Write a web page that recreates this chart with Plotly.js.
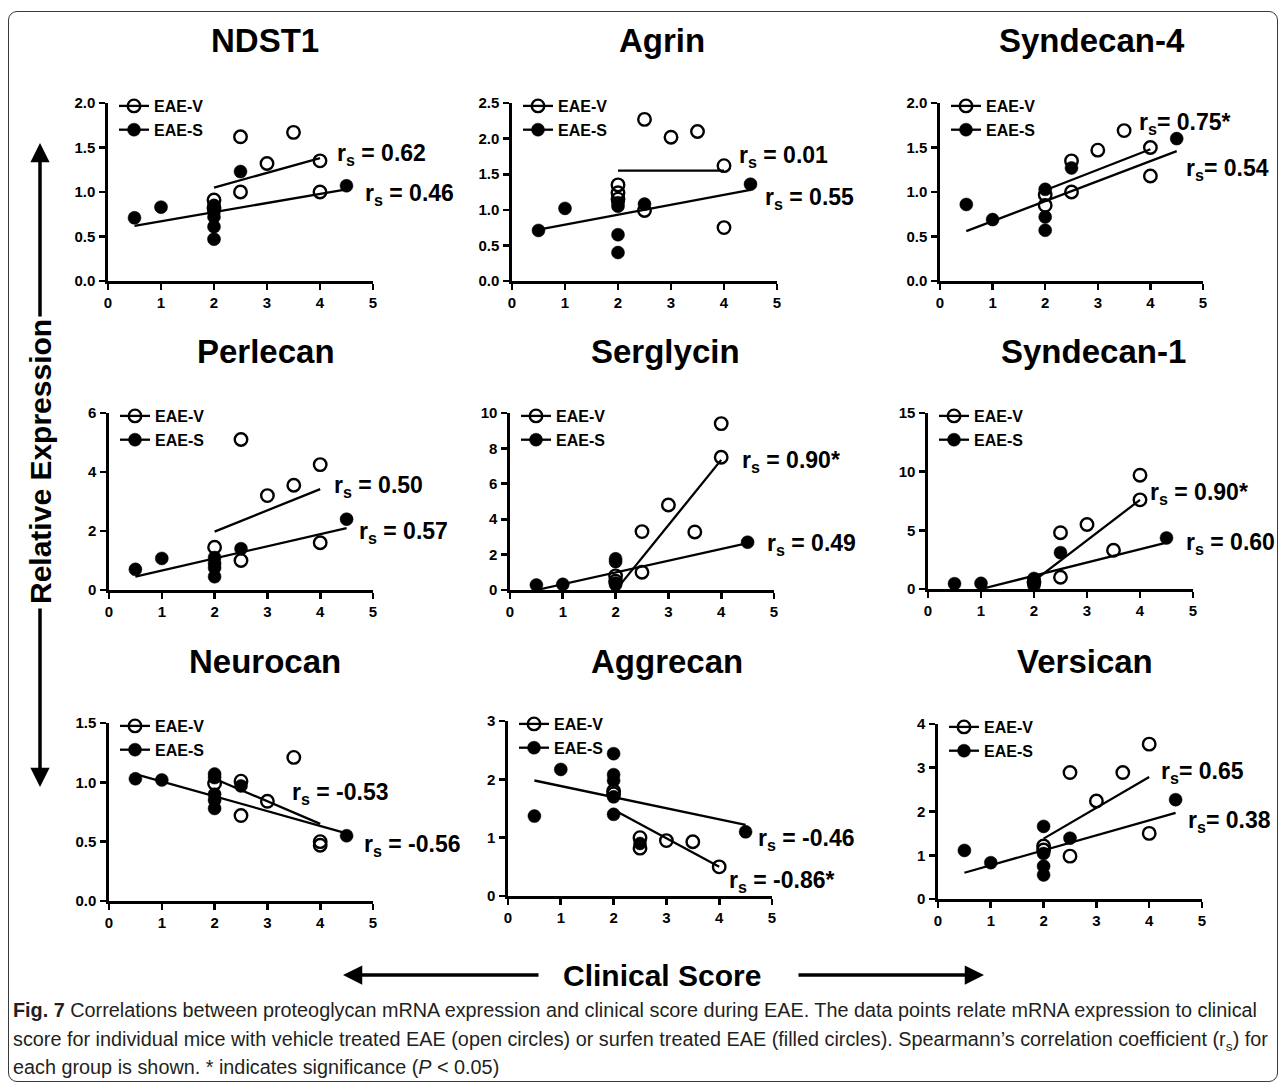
<!DOCTYPE html>
<html>
<head>
<meta charset="utf-8">
<script src="https://cdn.plot.ly/plotly-3.0.1.min.js"></script>
<style>
  html, body { margin: 0; padding: 0; background: #fff; }
  #wrap { position: relative; width: 1285px; height: 1084px; overflow: hidden; }
  #chart { position: absolute; left: 0; top: 0; width: 1285px; height: 1084px; }
  #frame { position: absolute; left: 8px; top: 11px; width: 1270px; height: 1071px;
           border: 1.3px solid #3a3a3a; border-radius: 9px; pointer-events: none; box-sizing: border-box; }
  #caption { position: absolute; left: 13px; top: 996px; color: #231f20;
             font-family: "Liberation Sans", Arial, sans-serif;
             font-size: 19.5px; line-height: 28.5px; white-space: nowrap; transform-origin: 0 0; }
  #caption sub { font-size: 70%; line-height: 0; }
</style>
</head>
<body>
<div id="wrap">
  <div id="chart"></div>
  <div id="frame"></div>
  <div id="caption">
    <div class="ln"><span id="ln1"><b>Fig. 7</b> Correlations between proteoglycan mRNA expression and clinical score during EAE. The data points relate mRNA expression to clinical</span></div>
    <div class="ln">score for individual mice with vehicle treated EAE (open circles) or surfen treated EAE (filled circles). Spearmann’s correlation coefficient (r<sub>s</sub>) for</div>
    <div class="ln">each group is shown. * indicates significance (<i>P</i> &lt; 0.05)</div>
  </div>
</div>
<script>
// ---------------- DATA ----------------
const titles = ['NDST1', 'Agrin', 'Syndecan-4', 'Perlecan', 'Serglycin', 'Syndecan-1', 'Neurocan', 'Aggrecan', 'Versican'];
const groupNames = ['EAE-V', 'EAE-S'];
const xTicks = [0, 1, 2, 3, 4, 5];
const yMax = [2, 2.5, 2, 6, 10, 15, 1.5, 3, 4];
const yStep = [0.5, 0.5, 0.5, 2, 2, 5, 0.5, 1, 1];
const yFormat = ['.1f', '.1f', '.1f', 'd', 'd', 'd', '.1f', 'd', 'd'];
const rsV = ['r<sub>s</sub> = 0.62', 'r<sub>s</sub> = 0.01', 'r<sub>s</sub>= 0.75*', 'r<sub>s</sub> = 0.50', 'r<sub>s</sub> = 0.90*', 'r<sub>s</sub> = 0.90*', 'r<sub>s</sub> = -0.53', 'r<sub>s</sub> = -0.86*', 'r<sub>s</sub>= 0.65'];
const rsS = ['r<sub>s</sub> = 0.46', 'r<sub>s</sub> = 0.55', 'r<sub>s</sub>= 0.54', 'r<sub>s</sub> = 0.57', 'r<sub>s</sub> = 0.49', 'r<sub>s</sub> = 0.60', 'r<sub>s</sub> = -0.56', 'r<sub>s</sub> = -0.46', 'r<sub>s</sub>= 0.38'];

// NDST1
const ndst1V_x = [2, 2, 2.5, 2.5, 3, 3.5, 4, 4];
const ndst1V_y = [0.91, 0.82, 1.62, 1.00, 1.32, 1.67, 1.35, 1.00];
const ndst1S_x = [0.5, 1, 2, 2, 2, 2, 2, 2.5, 4.5];
const ndst1S_y = [0.71, 0.83, 0.85, 0.78, 0.72, 0.61, 0.47, 1.23, 1.07];
const ndst1FitV_x = [2, 4], ndst1FitV_y = [1.05, 1.38];
const ndst1FitS_x = [0.5, 4.5], ndst1FitS_y = [0.62, 1.03];
// Agrin
const agrinV_x = [2, 2, 2, 2.5, 2.5, 3, 3.5, 4, 4];
const agrinV_y = [1.35, 1.24, 1.15, 2.27, 0.99, 2.02, 2.10, 1.62, 0.75];
const agrinS_x = [0.5, 1, 2, 2, 2, 2, 2.5, 4.5];
const agrinS_y = [0.71, 1.02, 1.10, 1.05, 0.65, 0.40, 1.08, 1.36];
const agrinFitV_x = [2, 4], agrinFitV_y = [1.55, 1.55];
const agrinFitS_x = [0.5, 4.5], agrinFitS_y = [0.72, 1.28];
// Syndecan-4
const sdc4V_x = [2, 2, 2.5, 2.5, 3, 3.5, 4, 4];
const sdc4V_y = [0.97, 0.85, 1.35, 1.00, 1.47, 1.69, 1.50, 1.18];
const sdc4S_x = [0.5, 1, 2, 2, 2, 2.5, 4.5];
const sdc4S_y = [0.86, 0.69, 1.03, 0.72, 0.57, 1.27, 1.60];
const sdc4FitV_x = [2, 4], sdc4FitV_y = [1.02, 1.48];
const sdc4FitS_x = [0.5, 4.5], sdc4FitS_y = [0.56, 1.46];
// Perlecan
const perlV_x = [2, 2.5, 2.5, 3, 3.5, 4, 4];
const perlV_y = [1.45, 5.10, 1.00, 3.20, 3.55, 4.25, 1.60];
const perlS_x = [0.5, 1, 2, 2, 2, 2, 2.5, 4.5];
const perlS_y = [0.70, 1.07, 1.10, 0.90, 0.75, 0.45, 1.40, 2.40];
const perlFitV_x = [2, 4], perlFitV_y = [1.98, 3.42];
const perlFitS_x = [0.5, 4.5], perlFitS_y = [0.45, 2.10];
// Serglycin
const sergV_x = [2, 2, 2.5, 2.5, 3, 3.5, 4, 4];
const sergV_y = [0.80, 0.50, 3.30, 1.00, 4.80, 3.28, 7.50, 9.40];
const sergS_x = [0.5, 1, 2, 2, 2, 2, 4.5];
const sergS_y = [0.28, 0.32, 1.76, 1.60, 0.40, 0.30, 2.70];
const sergFitV_x = [2.02, 4], sergFitV_y = [0.05, 7.35];
const sergFitS_x = [0.5, 4.5], sergFitS_y = [0.0, 2.65];
// Syndecan-1
const sdc1V_x = [2, 2.5, 2.5, 3, 3.5, 4, 4];
const sdc1V_y = [0.60, 4.80, 1.00, 5.50, 3.30, 7.60, 9.70];
const sdc1S_x = [0.5, 1, 2, 2, 2, 2.5, 4.5];
const sdc1S_y = [0.45, 0.48, 0.90, 0.50, 0.30, 3.10, 4.35];
const sdc1FitV_x = [2, 4], sdc1FitV_y = [0.7, 7.6];
const sdc1FitS_x = [1.0, 4.5], sdc1FitS_y = [0.0, 3.95];
// Neurocan
const ncanV_x = [2, 2.5, 2.5, 3, 3.5, 4, 4];
const ncanV_y = [0.99, 1.01, 0.72, 0.84, 1.21, 0.50, 0.47];
const ncanS_x = [0.5, 1, 2, 2, 2, 2, 2, 2.5, 4.5];
const ncanS_y = [1.03, 1.02, 1.07, 1.04, 0.90, 0.85, 0.78, 0.97, 0.55];
const ncanFitV_x = [2, 4], ncanFitV_y = [1.03, 0.65];
const ncanFitS_x = [0.5, 4.5], ncanFitS_y = [1.07, 0.57];
// Aggrecan
const aggV_x = [2, 2, 2.5, 2.5, 3, 3.5, 4];
const aggV_y = [1.80, 1.75, 1.00, 0.82, 0.95, 0.93, 0.50];
const aggS_x = [0.5, 1, 2, 2, 2, 2, 2, 2.5, 4.5];
const aggS_y = [1.37, 2.17, 2.44, 2.08, 1.98, 1.70, 1.40, 0.90, 1.10];
const aggFitV_x = [2, 4], aggFitV_y = [1.48, 0.50];
const aggFitS_x = [0.5, 4.5], aggFitS_y = [1.98, 1.22];
// Versican
const vcanV_x = [2, 2, 2.5, 2.5, 3, 3.5, 4, 4];
const vcanV_y = [1.21, 1.12, 2.89, 0.98, 2.24, 2.89, 3.54, 1.50];
const vcanS_x = [0.5, 1, 2, 2, 2, 2, 2.5, 4.5];
const vcanS_y = [1.11, 0.83, 1.66, 1.04, 0.75, 0.55, 1.39, 2.27];
const vcanFitV_x = [2, 4], vcanFitV_y = [1.38, 2.79];
const vcanFitS_x = [0.5, 4.5], vcanFitS_y = [0.60, 1.97];

// ---------------- LAYOUT GEOMETRY (pixels) ----------------
const W = 1285, H = 1084;
const colPx = [[108, 373], [512, 777], [940, 1203], [109, 373], [510, 774], [928, 1193], [109, 373], [508, 772], [938, 1202]];
const rowPx = [[103, 281], [103, 281], [103, 281], [413, 590], [413, 590], [413, 589], [723, 901], [721, 896], [724, 899]];
const titlePx = [[265, 41], [662, 41], [1092, 41], [266, 351], [665, 351], [1093, 351], [265, 661], [667, 661], [1085, 661]];
// annotation anchors in data units (left edge, vertical centre)
const labVpos = [[4.28, 1.47], [4.25, 1.80], [3.74, 1.81], [4.22, 3.66], [4.36, 7.5], [4.15, 8.47], [3.42, 0.94], [4.15, 0.31], [4.18, 2.99]];
const labSpos = [[4.81, 1.02], [4.74, 1.21], [4.63, 1.30], [4.70, 2.10], [4.83, 2.8], [4.83, 4.2], [4.79, 0.50], [4.69, 1.04], [4.69, 1.87]];

const panels = [
  [ndst1V_x, ndst1V_y, ndst1S_x, ndst1S_y, ndst1FitV_x, ndst1FitV_y, ndst1FitS_x, ndst1FitS_y],
  [agrinV_x, agrinV_y, agrinS_x, agrinS_y, agrinFitV_x, agrinFitV_y, agrinFitS_x, agrinFitS_y],
  [sdc4V_x, sdc4V_y, sdc4S_x, sdc4S_y, sdc4FitV_x, sdc4FitV_y, sdc4FitS_x, sdc4FitS_y],
  [perlV_x, perlV_y, perlS_x, perlS_y, perlFitV_x, perlFitV_y, perlFitS_x, perlFitS_y],
  [sergV_x, sergV_y, sergS_x, sergS_y, sergFitV_x, sergFitV_y, sergFitS_x, sergFitS_y],
  [sdc1V_x, sdc1V_y, sdc1S_x, sdc1S_y, sdc1FitV_x, sdc1FitV_y, sdc1FitS_x, sdc1FitS_y],
  [ncanV_x, ncanV_y, ncanS_x, ncanS_y, ncanFitV_x, ncanFitV_y, ncanFitS_x, ncanFitS_y],
  [aggV_x, aggV_y, aggS_x, aggS_y, aggFitV_x, aggFitV_y, aggFitS_x, aggFitS_y],
  [vcanV_x, vcanV_y, vcanS_x, vcanS_y, vcanFitV_x, vcanFitV_y, vcanFitS_x, vcanFitS_y]
];

const FONT = 'Liberation Sans, Arial, Helvetica, sans-serif';
const openMarker = {symbol: 'circle-open', size: 12.5, color: '#000', line: {width: 2.4, color: '#000'}};
const fillMarker = {symbol: 'circle', size: 13, color: '#000', line: {width: 0.5, color: '#000'}};

const traces = [];
const layout = {
  width: W, height: H, margin: {l: 0, r: 0, t: 0, b: 0},
  paper_bgcolor: '#fff', plot_bgcolor: 'rgba(0,0,0,0)',
  showlegend: true, annotations: [], font: {family: FONT, color: '#000'}
};

panels.forEach((p, i) => {
  const n = i + 1;
  const xa = 'x' + (n === 1 ? '' : n), ya = 'y' + (n === 1 ? '' : n);
  const legId = 'legend' + (n === 1 ? '' : n);
  const axCommon = {
    showline: true, linewidth: 2.6, linecolor: '#000', ticks: 'outside', ticklen: 6, tickwidth: 2.6,
    tickcolor: '#000', showgrid: false, zeroline: false, fixedrange: true,
    tickfont: {family: FONT, size: 15, weight: 'bold', color: '#000'}
  };
  layout['xaxis' + (n === 1 ? '' : n)] = Object.assign({}, axCommon, {
    domain: [colPx[i][0] / W, colPx[i][1] / W], range: [0, 5], tickvals: xTicks,
    anchor: ya
  });
  layout['yaxis' + (n === 1 ? '' : n)] = Object.assign({}, axCommon, {
    domain: [1 - rowPx[i][1] / H, 1 - rowPx[i][0] / H], range: [0, yMax[i]], dtick: yStep[i], tick0: 0,
    tickformat: yFormat[i], anchor: xa, ticklabelstandoff: 1
  });
  layout[legId] = {
    x: (colPx[i][0] + 6) / W, y: 1 - (rowPx[i][0] - 14) / H, xanchor: 'left', yanchor: 'top',
    bgcolor: 'rgba(0,0,0,0)', borderwidth: 0, tracegroupgap: 0,
    font: {family: FONT, size: 16, weight: 'bold', color: '#000'}
  };
  const [vx, vy, sx, sy, fvx, fvy, fsx, fsy] = p;
  // fit lines
  traces.push({x: fvx, y: fvy, xaxis: xa, yaxis: ya, mode: 'lines', line: {color: '#000', width: 2.3}, showlegend: false, hoverinfo: 'skip', cliponaxis: false});
  traces.push({x: fsx, y: fsy, xaxis: xa, yaxis: ya, mode: 'lines', line: {color: '#000', width: 2.3}, showlegend: false, hoverinfo: 'skip', cliponaxis: false});
  // points
  traces.push({x: sx, y: sy, xaxis: xa, yaxis: ya, mode: 'markers', marker: fillMarker, showlegend: false, name: groupNames[1], cliponaxis: false});
  traces.push({x: vx, y: vy, xaxis: xa, yaxis: ya, mode: 'markers', marker: openMarker, showlegend: false, name: groupNames[0], cliponaxis: false});
  // legend entries (line + marker symbol)
  traces.push({x: [null], y: [null], xaxis: xa, yaxis: ya, mode: 'lines+markers', name: groupNames[0], legend: legId,
    marker: openMarker, line: {color: '#000', width: 2.3}, showlegend: true});
  traces.push({x: [null], y: [null], xaxis: xa, yaxis: ya, mode: 'lines+markers', name: groupNames[1], legend: legId,
    marker: fillMarker, line: {color: '#000', width: 2.3}, showlegend: true});

  // panel title
  layout.annotations.push({text: titles[i], xref: 'paper', yref: 'paper', x: titlePx[i][0] / W, y: 1 - titlePx[i][1] / H,
    xanchor: 'center', yanchor: 'middle', showarrow: false, font: {family: FONT, size: 33, weight: 'bold', color: '#000'}});
  // r_s labels
  layout.annotations.push({text: rsV[i], xref: xa, yref: ya, x: labVpos[i][0], y: labVpos[i][1], xanchor: 'left', yanchor: 'middle',
    yshift: -4, showarrow: false, font: {family: FONT, size: 23, weight: 'bold', color: '#000'}});
  layout.annotations.push({text: rsS[i], xref: xa, yref: ya, x: labSpos[i][0], y: labSpos[i][1], xanchor: 'left', yanchor: 'middle',
    yshift: -4, showarrow: false, font: {family: FONT, size: 23, weight: 'bold', color: '#000'}});
});

// Shared axis labels with arrows
const bigFont = {family: FONT, size: 30, weight: 'bold', color: '#000'};
layout.annotations.push({text: 'Relative Expression', xref: 'paper', yref: 'paper', x: 40 / W, y: 1 - 462 / H, textangle: -90,
  xanchor: 'center', yanchor: 'middle', showarrow: false, font: bigFont});
layout.annotations.push({text: 'Clinical Score', xref: 'paper', yref: 'paper', x: 662 / W, y: 1 - 975 / H,
  xanchor: 'center', yanchor: 'middle', showarrow: false, font: bigFont});
const arrow = {text: '', xref: 'paper', yref: 'paper', showarrow: true, arrowhead: 2, arrowsize: 1.1, arrowwidth: 3.5, arrowcolor: '#000'};
layout.annotations.push(Object.assign({}, arrow, {x: 40 / W, y: 1 - 143 / H, ax: 0, ay: 175}));
layout.annotations.push(Object.assign({}, arrow, {x: 40 / W, y: 1 - 787 / H, ax: 0, ay: -180}));
layout.annotations.push(Object.assign({}, arrow, {x: 343 / W, y: 1 - 975 / H, ax: 197, ay: 0}));
layout.annotations.push(Object.assign({}, arrow, {x: 984 / W, y: 1 - 975 / H, ax: -187, ay: 0}));

Plotly.newPlot('chart', traces, layout, {staticPlot: true, displayModeBar: false}).then(() => {
  // compress the caption horizontally so that its first line matches the reference length
  const ln = document.getElementById('ln1');
  const cap = document.getElementById('caption');
  const target = 1244;
  const w = ln.getBoundingClientRect().width;
  if (w > 0) cap.style.transform = 'scaleX(' + (target / w).toFixed(4) + ')';
});
</script>
</body>
</html>
